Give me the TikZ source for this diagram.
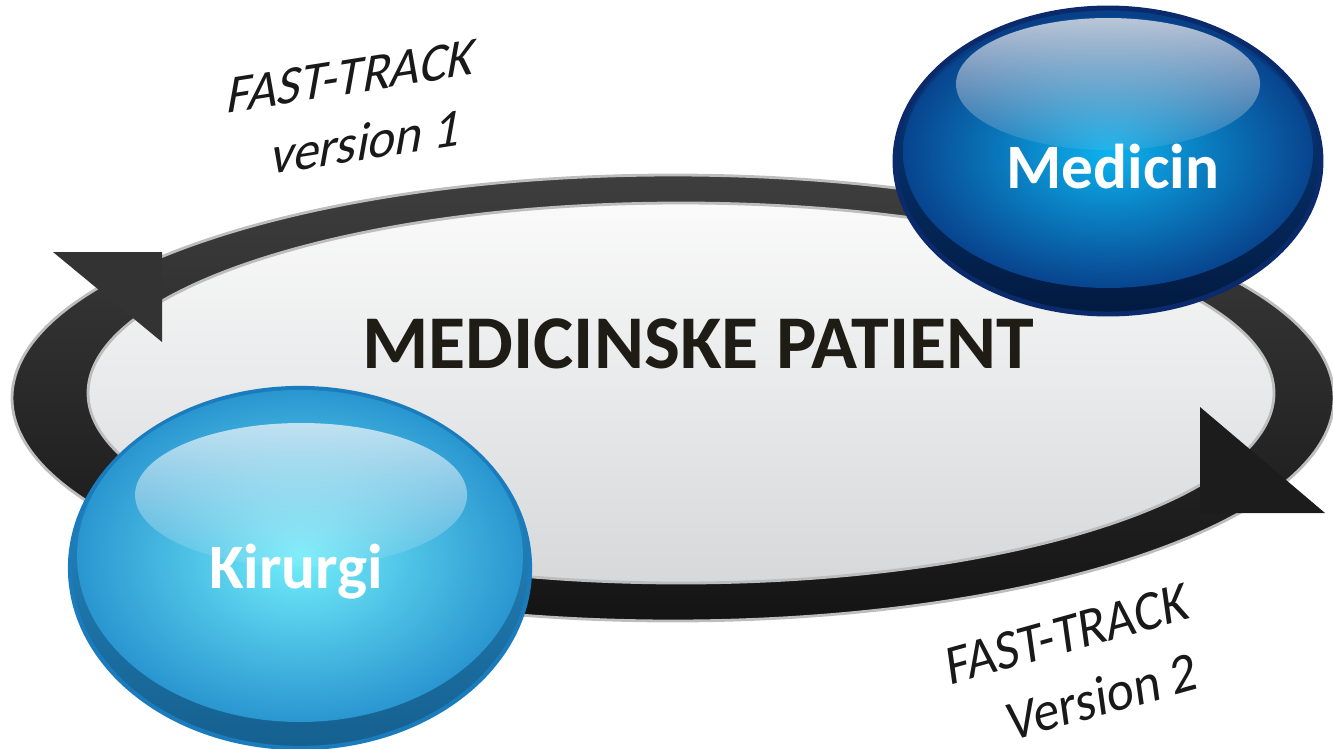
\documentclass[tikz,border=0pt]{standalone}
\usepackage{fontspec}
\setmainfont{Carlito}
\usetikzlibrary{fadings}
\definecolor{ringtop}{HTML}{3E3E3E}
\definecolor{ringbot}{HTML}{141414}
\definecolor{ringedge}{HTML}{BDBDBD}
\definecolor{innertop}{HTML}{FAFAFA}
\definecolor{innerbot}{HTML}{D6D8DA}
\definecolor{arrowA}{HTML}{333333}
\definecolor{arrowB}{HTML}{1C1C1C}
\definecolor{titlecol}{HTML}{1E1C14}
\definecolor{medborder}{HTML}{0A2A6C}
\definecolor{medtop}{HTML}{08418A}
\definecolor{meddark}{HTML}{021A40}
\definecolor{medin}{HTML}{0CB2EE}
\definecolor{medout}{HTML}{08448E}
\definecolor{medhl}{HTML}{D2D8E2}
\definecolor{kirborder}{HTML}{1A7CBC}
\definecolor{kirtop}{HTML}{2A92CE}
\definecolor{kirdark}{HTML}{15608F}
\definecolor{kirin}{HTML}{72EEFB}
\definecolor{kirout}{HTML}{2A96D0}
\definecolor{kirhl}{HTML}{D4EAF5}
\tikzfading[name=hlfade, top color=transparent!12, bottom color=transparent!90]
\begin{document}
\begin{tikzpicture}[x=0.01cm,y=-0.01cm,
  lab/.style={font=\fontsize{14.8}{17}\selectfont, text=black!90, anchor=base, inner sep=0pt},
  labone/.style={lab, cm={0.988,0.156,0.19,1.06,(0,0)}},
  labtwo/.style={lab, cm={0.964,0.267,-0.15,1.07,(0,0)}},
  bubtext/.style={font=\fontsize{18}{20}\selectfont\bfseries, text=white, anchor=base, inner sep=0pt},
  titletext/.style={font=\fontsize{21.6}{25}\selectfont\bfseries, text=titlecol, anchor=base, inner sep=0pt},
  ringouter/.style={top color=ringtop, bottom color=ringbot, draw=ringedge, line width=0.8pt},
  ringinner/.style={top color=innertop, bottom color=innerbot, draw=ringedge, line width=0.8pt},
  highlight/.style={fill=#1, path fading=hlfade}
]
\useasboundingbox (0,0) rectangle (1333,748);
\clip (0,0) rectangle (1333,748);

% ring
\path[ringouter] (673,398) ellipse (661 and 223);
\path[ringinner] (681,393) ellipse (593 and 190);

% arrowheads
\fill[arrowA] (53,252) -- (162,252) -- (162,342) -- cycle;
\fill[arrowB] (1200,407) -- (1200,513) -- (1325,513) -- cycle;

% title
\node[titletext] (title) at (698,368) {MEDICINSKE PATIENT};

% Medicin bubble
\path[top color=medtop, bottom color=meddark, draw=medborder, line width=1.4pt] (1108,161) ellipse (213 and 153);
\path[inner color=medin, outer color=medout] (1108,152) ellipse (205 and 136);
\path[highlight=medhl] (1108,84) ellipse (152 and 66);
\node[bubtext] (medicin) at (1113,188) {Medicin};

% Kirurgi bubble
\path[top color=kirtop, bottom color=kirdark, draw=kirborder, line width=1.2pt] (300,568) ellipse (230 and 180);
\path[inner color=kirin, outer color=kirout] (300,556) ellipse (223 and 166);
\path[highlight=kirhl] (301,495) ellipse (166 and 72);
\node[bubtext] (kirurgi) at (296,588) {Kirurgi};

% labels
\node[labone] (ft1a) at (349,94) {FAST-TRACK};
\node[labone] (ft1b) at (364,160) {version 1};
\node[labtwo] (ft2a) at (1070,652) {FAST-TRACK};
\node[labtwo] (ft2b) at (1105,715) {Version 2};
\end{tikzpicture}
\end{document}
